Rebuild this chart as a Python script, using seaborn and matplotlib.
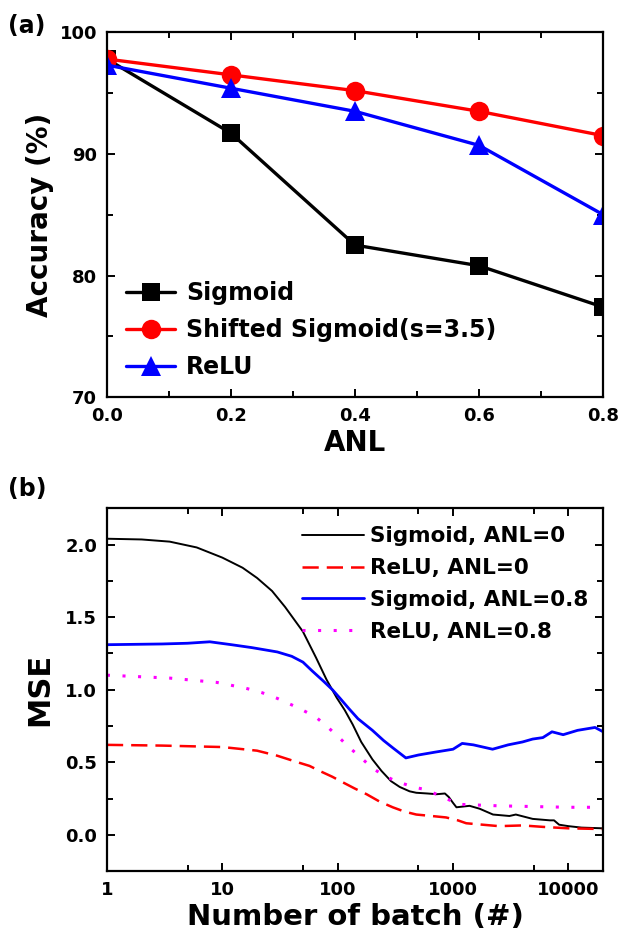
import numpy as np
import pandas as pd
import seaborn as sns
import matplotlib
matplotlib.use("Agg")
import matplotlib.pyplot as plt
from matplotlib.ticker import MultipleLocator, FixedLocator, NullFormatter, FixedFormatter

# (a) accuracy vs analog non-linearity
anl = [0.0, 0.2, 0.4, 0.6, 0.8]
acc_sigmoid = [97.8, 91.7, 82.5, 80.8, 77.4]
acc_shifted = [97.8, 96.5, 95.2, 93.5, 91.5]
acc_relu = [97.3, 95.4, 93.5, 90.7, 85.0]

# (b) MSE vs number of batch
batch_sig0 = [1, 2, 3.5, 6, 10, 15, 20, 27, 35, 50, 65, 80, 98, 115, 135, 160, 200,
              240, 290, 345, 420, 480, 600, 720, 850, 920, 1000, 1070, 1390, 1700,
              2220, 3080, 3500, 4900, 6900, 7500, 8300, 10000, 13000, 20000]
mse_sig0 = [2.04, 2.035, 2.02, 1.98, 1.91, 1.84, 1.77, 1.68, 1.57, 1.40, 1.22, 1.07,
            0.945, 0.86, 0.76, 0.64, 0.52, 0.44, 0.37, 0.33, 0.30, 0.29, 0.285, 0.28,
            0.285, 0.26, 0.22, 0.19, 0.20, 0.18, 0.14, 0.13, 0.14, 0.11, 0.10, 0.10,
            0.07, 0.06, 0.05, 0.045]

batch_relu0 = [1, 3, 10, 20, 30, 45, 57, 70, 90, 112, 140, 178, 230, 300, 380, 480,
               650, 870, 1100, 1300, 2500, 4000, 6000, 10000, 20000]
mse_relu0 = [0.62, 0.615, 0.605, 0.58, 0.545, 0.50, 0.475, 0.44, 0.40, 0.36, 0.32,
             0.28, 0.23, 0.19, 0.16, 0.14, 0.13, 0.12, 0.10, 0.08, 0.06, 0.065,
             0.055, 0.045, 0.04]

batch_sig8 = [1, 3, 5, 7.8, 12, 18, 30, 40, 50, 60, 75, 90, 105, 125, 150, 200, 250,
              300, 390, 500, 700, 1000, 1200, 1500, 2200, 3000, 4000, 4900, 6000,
              7200, 9000, 12000, 17000, 20000]
mse_sig8 = [1.31, 1.315, 1.32, 1.33, 1.31, 1.29, 1.26, 1.23, 1.19, 1.13, 1.06, 1.00,
            0.94, 0.87, 0.80, 0.72, 0.65, 0.60, 0.53, 0.55, 0.57, 0.59, 0.63, 0.62,
            0.59, 0.62, 0.64, 0.66, 0.67, 0.71, 0.69, 0.72, 0.74, 0.71]

batch_relu8 = [1, 3.5, 9, 16, 22, 30, 47, 65, 80, 100, 127, 160, 200, 250, 320, 450,
               590, 870, 1140, 2500, 5000, 10000, 20000]
mse_relu8 = [1.10, 1.08, 1.05, 1.01, 0.98, 0.94, 0.87, 0.81, 0.75, 0.68, 0.60, 0.53,
             0.46, 0.41, 0.37, 0.33, 0.31, 0.25, 0.21, 0.20, 0.195, 0.19, 0.19]

sns.set_style("ticks")
plt.rcParams['font.family'] = ['DejaVu Sans']
plt.rcParams['font.weight'] = 'bold'
plt.rcParams['axes.labelweight'] = 'bold'
plt.rcParams['text.color'] = 'black'
plt.rcParams['axes.labelcolor'] = 'black'
plt.rcParams['xtick.color'] = 'black'
plt.rcParams['ytick.color'] = 'black'

fig = plt.figure(figsize=(6.18, 9.5), dpi=100)
ax1 = fig.add_axes([0.173, 0.582, 0.803, 0.384])
ax2 = fig.add_axes([0.173, 0.083, 0.803, 0.382])


def style_axis(ax):
    for s in ax.spines.values():
        s.set_linewidth(1.6)
        s.set_color('black')
    ax.tick_params(which='both', direction='in', top=True, right=True,
                   width=1.4, colors='black', labelcolor='black', labelsize=13, pad=7)
    ax.tick_params(which='major', length=6)
    ax.tick_params(which='minor', length=4)


# ---- panel (a)
sns.lineplot(x=anl, y=acc_sigmoid, ax=ax1, color='black', marker='s', markersize=13,
             markeredgewidth=0, linewidth=2.4, label='Sigmoid')
sns.lineplot(x=anl, y=acc_shifted, ax=ax1, color='red', marker='o', markersize=14,
             markeredgewidth=0, linewidth=2.4, label='Shifted Sigmoid(s=3.5)')
sns.lineplot(x=anl, y=acc_relu, ax=ax1, color='blue', marker='^', markersize=15,
             markeredgewidth=0, linewidth=2.4, label='ReLU')
ax1.set_xlim(0, 0.8)
ax1.set_ylim(70, 100)
ax1.xaxis.set_minor_locator(MultipleLocator(0.1))
ax1.yaxis.set_major_locator(MultipleLocator(10))
ax1.yaxis.set_minor_locator(MultipleLocator(5))
ax1.set_xticks(anl)
ax1.set_xticklabels([f"{v:.1f}" for v in anl])
ax1.set_xlabel('ANL', fontsize=20, fontweight='bold', labelpad=3)
ax1.set_ylabel('Accuracy (%)', fontsize=20, fontweight='bold', labelpad=4)
style_axis(ax1)
ax1.legend(loc='lower left', bbox_to_anchor=(0.0, -0.003), frameon=False,
           prop={'size': 17, 'weight': 'bold'}, handlelength=2.1,
           handletextpad=0.45, labelspacing=0.55, borderaxespad=0.4)

# ---- panel (b)
sns.lineplot(x=batch_sig0, y=mse_sig0, ax=ax2, color='black', linewidth=1.4,
             label='Sigmoid, ANL=0')
sns.lineplot(x=batch_relu0, y=mse_relu0, ax=ax2, color='red', linewidth=1.8,
             linestyle=(0, (6.5, 3.2)), label='ReLU, ANL=0')
sns.lineplot(x=batch_sig8, y=mse_sig8, ax=ax2, color='blue', linewidth=2.0,
             label='Sigmoid, ANL=0.8')
sns.lineplot(x=batch_relu8, y=mse_relu8, ax=ax2, color='#ff00ff', linewidth=2.2,
             linestyle=(0, (1, 4.1)), label='ReLU, ANL=0.8')
ax2.set_xscale('log')
ax2.set_xlim(1, 20000)
ax2.set_ylim(-0.25, 2.25)
ax2.xaxis.set_major_locator(FixedLocator([1, 10, 100, 1000, 10000]))
ax2.xaxis.set_major_formatter(FixedFormatter(['1', '10', '100', '1000', '10000']))
ax2.xaxis.set_minor_locator(FixedLocator([5, 50, 500, 5000]))
ax2.xaxis.set_minor_formatter(NullFormatter())
ax2.yaxis.set_major_locator(FixedLocator([0.0, 0.5, 1.0, 1.5, 2.0]))
ax2.yaxis.set_major_formatter(FixedFormatter(['0.0', '0.5', '1.0', '1.5', '2.0']))
ax2.yaxis.set_minor_locator(FixedLocator([-0.25, 0.25, 0.75, 1.25, 1.75, 2.25]))
ax2.set_xlabel('Number of batch (#)', fontsize=21, fontweight='bold', labelpad=3)
ax2.set_ylabel('MSE', fontsize=22, fontweight='bold', labelpad=8)
style_axis(ax2)
ax2.legend(loc='upper right', bbox_to_anchor=(1.0, 0.992), frameon=False,
           prop={'size': 15.5, 'weight': 'bold'}, handlelength=2.9,
           handletextpad=0.25, labelspacing=0.55, borderaxespad=0.3)

fig.text(0.013, 0.985, '(a)', fontsize=17, fontweight='bold', va='top', ha='left')
fig.text(0.013, 0.498, '(b)', fontsize=17, fontweight='bold', va='top', ha='left')

fig.savefig('out.png', dpi=100)
